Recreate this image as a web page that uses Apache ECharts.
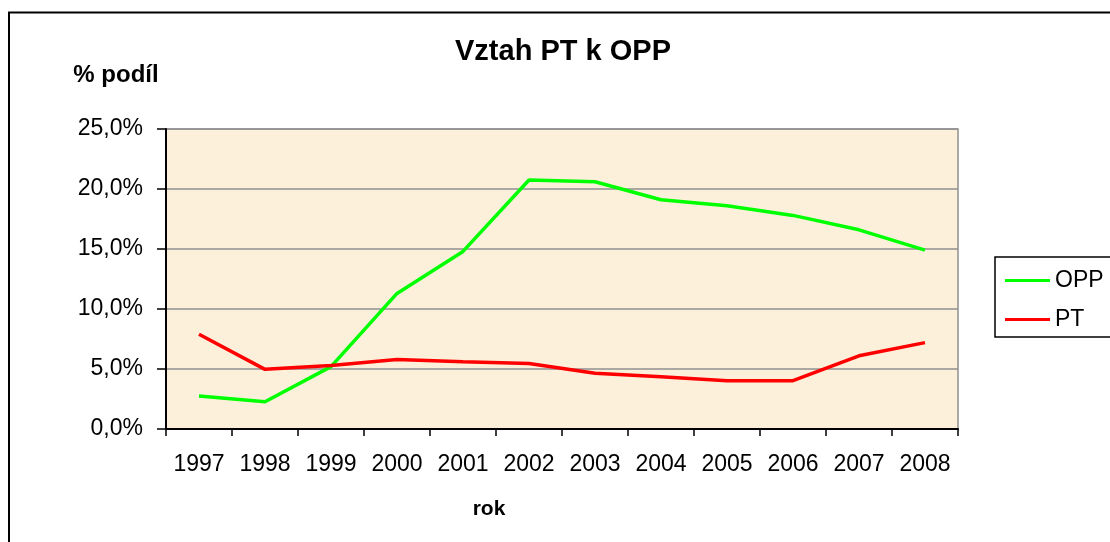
<!DOCTYPE html>
<html>
<head>
<meta charset="utf-8">
<script src="https://cdn.jsdelivr.net/npm/echarts@6/dist/echarts.min.js"></script>
<style>html,body{margin:0;padding:0;background:#fff;}#c{width:1110px;height:542px;}</style>
</head>
<body>
<div id="c"></div>
<script>
const title = 'Vztah PT k OPP';
const yAxisTitle = '% podíl';
const xAxisTitle = 'rok';
const years = ['1997','1998','1999','2000','2001','2002','2003','2004','2005','2006','2007','2008'];
const oppValues = [2.75, 2.27, 5.2, 11.3, 14.8, 20.75, 20.6, 19.1, 18.6, 17.8, 16.6, 14.9];
const ptValues = [7.9, 4.97, 5.3, 5.8, 5.6, 5.45, 4.64, 4.36, 4.03, 4.03, 6.1, 7.2];
const yTicks = { min: 0, max: 25, interval: 5 };

const font = "'Liberation Sans', Arial, sans-serif";
const chart = echarts.init(document.getElementById('c'), null, { renderer: 'canvas' });
chart.setOption({
  animation: false,
  backgroundColor: '#ffffff',
  graphic: [
    { type: 'rect', z: -10, silent: true, shape: { x: 9, y: 12.5, width: 1300, height: 700 },
      style: { fill: 'none', stroke: '#000', lineWidth: 2 } },
    { type: 'text', x: 563, y: 52, silent: true,
      style: { text: title, font: "bold 29px " + font, fill: '#000', align: 'center', verticalAlign: 'middle' } },
    { type: 'text', x: 116, y: 75, silent: true,
      style: { text: yAxisTitle, font: "bold 24px " + font, fill: '#000', align: 'center', verticalAlign: 'middle' } },
    { type: 'text', x: 489, y: 509, silent: true,
      style: { text: xAxisTitle, font: "bold 21px " + font, fill: '#000', align: 'center', verticalAlign: 'middle' } }
  ],
  legend: {
    orient: 'vertical',
    left: 995, top: 257,
    padding: [12, 40, 6, 10],
    itemGap: 16,
    itemWidth: 45, itemHeight: 3,
    icon: 'rect',
    borderColor: '#000', borderWidth: 1.5,
    textStyle: { fontFamily: font, fontSize: 23, color: '#000' },
    data: ['OPP', 'PT']
  },
  grid: {
    left: 166, top: 129, width: 792, height: 300,
    show: true, backgroundColor: '#FCF0DA', borderColor: '#909090', borderWidth: 1.5,
    outerBoundsMode: 'none', containLabel: false
  },
  xAxis: {
    type: 'category', data: years, boundaryGap: true,
    axisLine: { show: true, lineStyle: { color: '#000', width: 2 } },
    axisTick: { show: true, length: 7, interval: 0, lineStyle: { color: '#000', width: 1.5 } },
    axisLabel: { interval: 0, margin: 24, fontFamily: font, fontSize: 23, color: '#000' },
    splitLine: { show: false }
  },
  yAxis: {
    type: 'value', min: yTicks.min, max: yTicks.max, interval: yTicks.interval,
    axisLine: { show: true, lineStyle: { color: '#000', width: 2 } },
    axisTick: { show: true, length: 9, lineStyle: { color: '#000', width: 1.5 } },
    axisLabel: { margin: 23, fontFamily: font, fontSize: 23, color: '#000',
      formatter: v => v.toFixed(1).replace('.', ',') + '%' },
    splitLine: { show: true, lineStyle: { color: '#909090', width: 1.5 } }
  },
  series: [
    { name: 'OPP', type: 'line', data: oppValues, showSymbol: false, symbol: 'none',
      lineStyle: { color: '#00FF00', width: 3.5 }, itemStyle: { color: '#00FF00' } },
    { name: 'PT', type: 'line', data: ptValues, showSymbol: false, symbol: 'none',
      lineStyle: { color: '#FF0000', width: 3.5 }, itemStyle: { color: '#FF0000' } }
  ]
});
</script>
</body>
</html>
